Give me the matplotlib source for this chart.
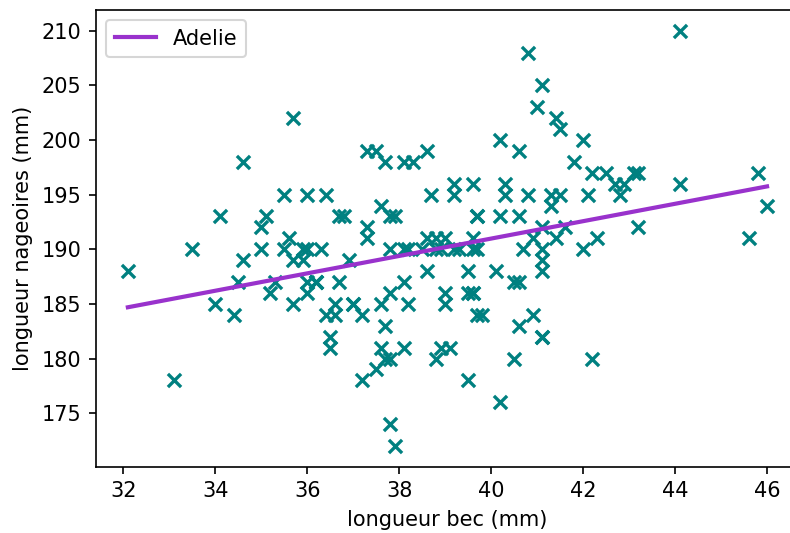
import numpy as np
import matplotlib
matplotlib.use("Agg")
import matplotlib.pyplot as plt

bill_length = [39.1,39.5,40.3,36.7,39.3,38.9,39.2,34.1,42.0,37.8,37.8,41.1,38.6,34.6,36.6,38.7,42.5,34.4,46.0,
               37.8,37.7,35.9,38.2,38.8,35.3,40.6,40.5,37.9,40.5,
               39.5,37.2,39.5,40.9,36.4,39.2,38.8,42.2,37.6,39.8,36.5,40.8,36.0,44.1,37.0,39.6,41.1,37.5,36.0,42.3,
               39.6,40.1,35.0,42.0,34.5,41.4,39.0,40.6,36.5,37.6,35.7,41.3,37.6,41.1,36.4,41.6,35.5,41.1,
               35.9,41.8,33.5,39.7,39.6,45.8,35.5,42.8,40.9,37.2,36.2,42.1,34.6,42.9,36.7,35.1,
               37.3,41.3,36.3,36.9,38.3,38.9,35.7,41.1,34.0,39.6,36.2,40.8,38.1,40.3,33.1,43.2,
               35.0,41.0,37.7,37.8,37.9,39.7,38.6,38.2,38.1,43.2,38.1,45.6,39.7,42.2,39.6,42.7,
               38.6,37.3,35.7,41.1,36.2,37.7,40.2,41.4,35.2,40.6,38.8,41.5,39.0,44.1,38.5,43.1,
               36.8,37.5,38.1,41.1,35.6,40.2,37.0,39.7,40.2,40.6,32.1,40.7,37.3,39.0,39.2,36.6,36.0,37.8,36.0,41.5]
flipper_length = [181,186,195,193,190,181,195,193,190,186,180,182,191,198,185,195,197,184,194,
                  174,180,189,185,180,187,183,187,172,180,
                  178,178,188,184,195,196,190,180,181,184,182,195,186,196,185,190,182,179,190,191,
                  186,188,190,200,187,191,186,193,181,194,185,195,185,192,184,192,195,188,
                  190,198,190,190,196,197,190,195,191,184,187,195,189,196,187,193,
                  191,194,190,189,198,190,202,205,185,186,187,208,190,196,178,192,
                  192,203,183,190,193,184,199,190,181,197,198,191,193,197,191,196,
                  188,199,189,189,187,198,176,202,186,199,191,195,191,210,190,197,
                  193,199,187,190,191,200,185,193,193,187,188,190,192,185,190,184,195,193,187,201]
species = "Adelie"

x = np.array(bill_length)
y = np.array(flipper_length)
slope, intercept = np.polyfit(x, y, 1)
xl = np.array([x.min(), x.max()])

fig = plt.figure(figsize=(790/150, 533/150), dpi=150)
ax = fig.add_axes([0.1214, 0.1244, 0.890, 0.857])
ax.scatter(x, y, marker='x', color='teal', s=40, linewidths=1.6)
ax.plot(xl, slope * xl + intercept, color='darkorchid', linewidth=2, label=species)
ax.set_xlabel("longueur bec (mm)")
ax.set_ylabel("longueur nageoires (mm)")
ax.set_xticks([32, 34, 36, 38, 40, 42, 44, 46])
ax.set_yticks([175, 180, 185, 190, 195, 200, 205, 210])
ax.legend(loc='upper left')
fig.savefig("out.png", dpi=150)
